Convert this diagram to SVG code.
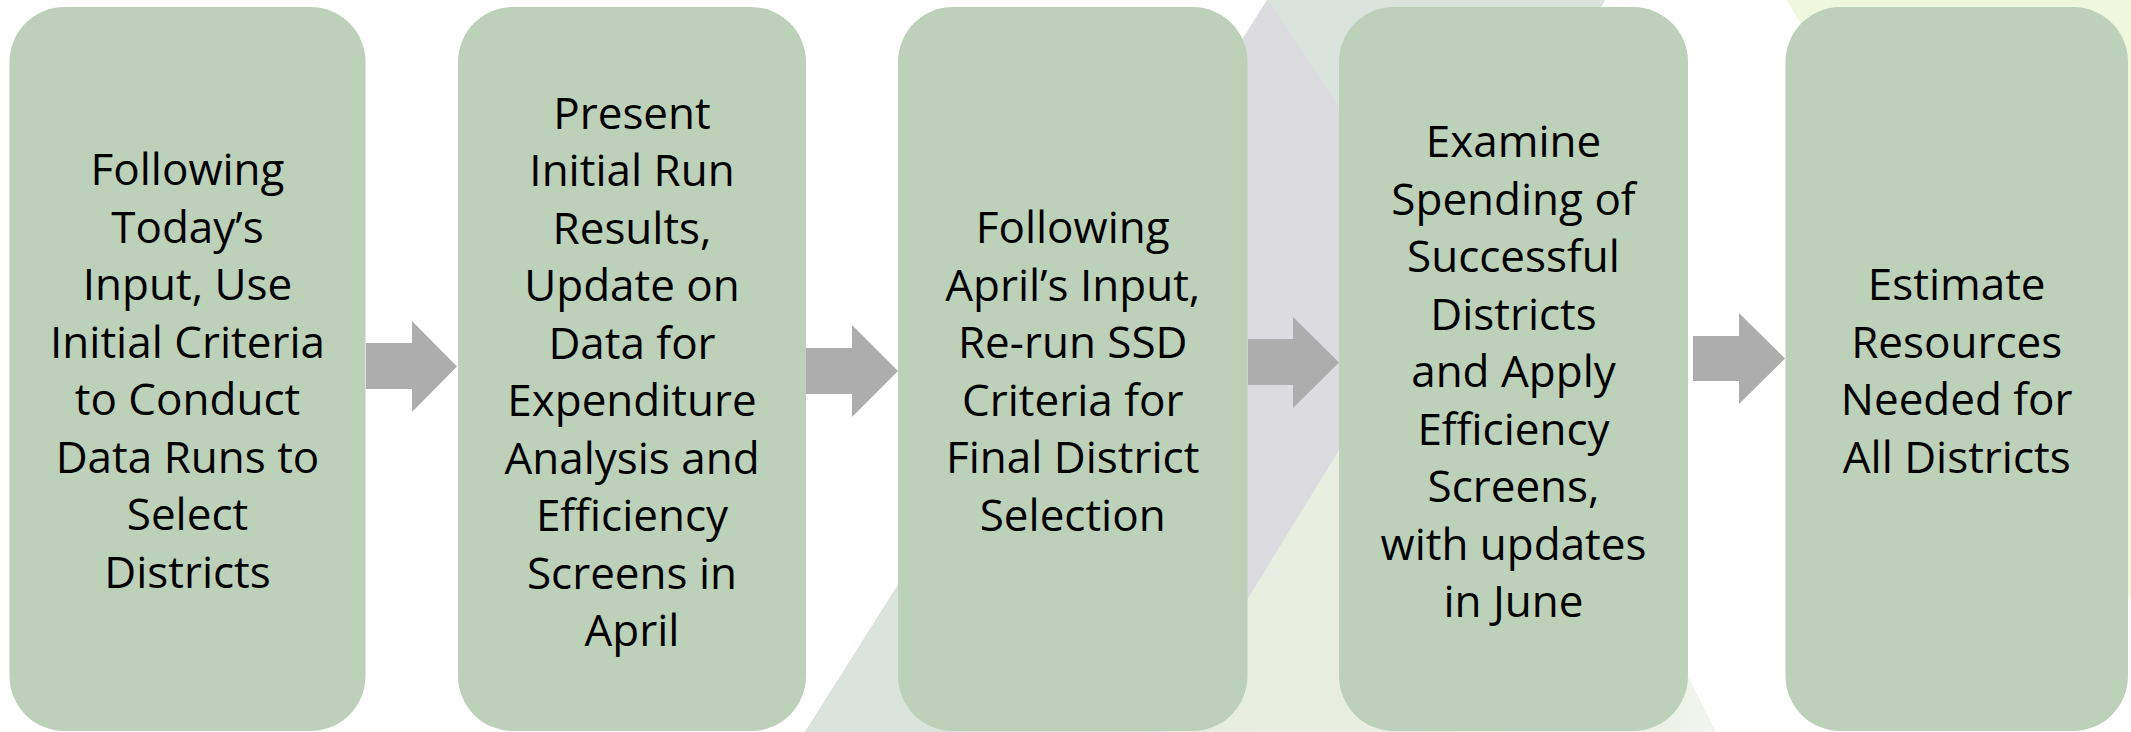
<svg xmlns="http://www.w3.org/2000/svg" width="2131" height="732" viewBox="0 0 2131 732">
<style>
.box{fill:#BDD0BA}
.arrow{fill:#ADADAD}
.t{font-family:"Open Sans","Liberation Sans",sans-serif;font-size:44px;fill:#000;text-anchor:middle}
</style>
<defs>
<linearGradient id="lg" x1="0" y1="0" x2="1" y2="0">
<stop offset="0" stop-color="#E7EEDF"/>
<stop offset="0.8" stop-color="#E9EFE2"/>
<stop offset="1" stop-color="#F1F5EE"/>
</linearGradient>
</defs>
<rect width="2131" height="732" fill="#FFFFFF"/>
<g id="background">
<polygon points="1267,0 1600,0 1600,732 805,732" fill="#DCDCE0"/>
<polygon points="805,732 1000,424 1200,732" fill="#DAE3DC"/>
<polygon points="1268,0 1605,0 1450,275" fill="#DAE3DC"/>
<polygon points="1468,240 1716,732 1166,732" fill="url(#lg)"/>
<polygon points="1787,0 2131,0 2131,600" fill="#EFF7DC"/>
</g>
<g id="connectors">
<polygon class="arrow" points="366,343 412,343 412,321 457,366.5 412,412 412,389 366,389"/>
<polygon class="arrow" points="806,348 852,348 852,325 898,371 852,417 852,394 806,394"/>
<polygon class="arrow" points="1248,339 1293,339 1293,317 1339,362.5 1293,408 1293,385 1248,385"/>
<polygon class="arrow" points="1693,336 1739,336 1739,313 1785,358.5 1739,404 1739,381 1693,381"/>
</g>
<g id="node1">
<rect class="box" x="9.5" y="7" width="356" height="724" rx="55" ry="55"/>
<text class="t"><tspan x="187.5" y="185">Following</tspan><tspan x="187.5" y="242.5">Today’s</tspan><tspan x="187.5" y="300">Input, Use</tspan><tspan x="187.5" y="357.5">Initial Criteria</tspan><tspan x="187.5" y="415">to Conduct</tspan><tspan x="187.5" y="472.5">Data Runs to</tspan><tspan x="187.5" y="530">Select</tspan><tspan x="187.5" y="587.5">Districts</tspan></text>
</g>
<g id="node2">
<rect class="box" x="458" y="7" width="348" height="724" rx="55" ry="55"/>
<text class="t"><tspan x="632" y="128.5">Present</tspan><tspan x="632" y="186">Initial Run</tspan><tspan x="632" y="243.5">Results,</tspan><tspan x="632" y="301">Update on</tspan><tspan x="632" y="358.5">Data for</tspan><tspan x="632" y="416">Expenditure</tspan><tspan x="632" y="473.5">Analysis and</tspan><tspan x="632" y="531">Efficiency</tspan><tspan x="632" y="588.5">Screens in</tspan><tspan x="632" y="646">April</tspan></text>
</g>
<g id="node3">
<rect class="box" x="898" y="7" width="349.5" height="724" rx="55" ry="55"/>
<text class="t"><tspan x="1072.7" y="243">Following</tspan><tspan x="1072.7" y="300.5">April’s Input,</tspan><tspan x="1072.7" y="358">Re-run SSD</tspan><tspan x="1072.7" y="415.5">Criteria for</tspan><tspan x="1072.7" y="473">Final District</tspan><tspan x="1072.7" y="530.5">Selection</tspan></text>
</g>
<g id="node4">
<rect class="box" x="1339" y="7" width="349" height="724" rx="55" ry="55"/>
<text class="t"><tspan x="1513.5" y="157">Examine</tspan><tspan x="1513.5" y="214.5">Spending of</tspan><tspan x="1513.5" y="272">Successful</tspan><tspan x="1513.5" y="329.5">Districts</tspan><tspan x="1513.5" y="387">and Apply</tspan><tspan x="1513.5" y="444.5">Efficiency</tspan><tspan x="1513.5" y="502">Screens,</tspan><tspan x="1513.5" y="559.5">with updates</tspan><tspan x="1513.5" y="617">in June</tspan></text>
</g>
<g id="node5">
<rect class="box" x="1785.5" y="7" width="342.5" height="724" rx="55" ry="55"/>
<text class="t"><tspan x="1956.7" y="300">Estimate</tspan><tspan x="1956.7" y="357.5">Resources</tspan><tspan x="1956.7" y="415">Needed for</tspan><tspan x="1956.7" y="472.5">All Districts</tspan></text>
</g>
</svg>
